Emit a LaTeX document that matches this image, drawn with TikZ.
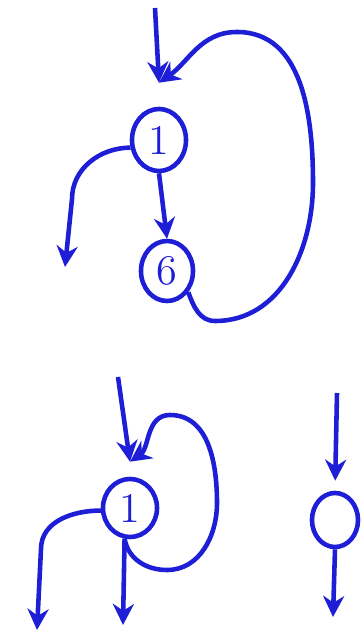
\documentclass[tikz,border=0pt]{standalone}
\usepackage{xcolor}
\usetikzlibrary{shapes.geometric, arrows.meta, positioning}
\definecolor{ink}{RGB}{30,30,215}

\begin{document}
\begin{tikzpicture}[
    x=0.01cm, y=0.01cm,
    >={Stealth[length=6pt, width=6pt]},
    state/.style={ellipse, draw=ink, line width=1.3pt, minimum width=0.54cm, minimum height=0.62cm, inner sep=0pt, font=\large, text=ink},
    flow/.style={->, draw=ink, line width=1.3pt}
]

% canvas, same size as the sketch
\useasboundingbox (0,0) rectangle (360,639);

% -------------------------------------------------------------------------
% Upper machine: states 1 and 6, loop back into the start
% -------------------------------------------------------------------------
\node[state] (A1) at (159,499) {1};
\node[state, minimum width=0.52cm, minimum height=0.6cm] (A6) at (167,368) {6};

\coordinate (Ain) at (155,631);
\coordinate (Ajoin) at ([yshift=0.24cm]A1.north);
\coordinate (Aout) at (65,372);

\draw[flow] (Ain) -- (Ajoin);
\draw[flow] (A1.south) -- (A6.north);

% left exit
\draw[flow] (A1.195) to[out=180, in=90] (72,440) -- (Aout);

% big loop round the right side
\draw[flow] (A6.-45) to[out=-70, in=180] (215,318) to[out=0, in=-90] (313,456)
    to[out=90, in=0] (237,607) to[out=180, in=35] (Ajoin);

% -------------------------------------------------------------------------
% Lower left machine: one state with a loop
% -------------------------------------------------------------------------
\node[state, minimum height=0.58cm] (B1) at (130,131) {1};

\coordinate (Bin) at (118,262);
\coordinate (Bjoin) at ([yshift=0.15cm]B1.north);
\coordinate (Bout) at (123,14);
\coordinate (Bleft) at (37,9);

\draw[flow] (Bin) -- (Bjoin);
\draw[flow] (B1.-100) -- (Bout);
\draw[flow] (B1.185) to[out=180, in=90] (41,90) -- (Bleft);

% loop from the bottom back to the start
\draw[flow] (B1.-100) to[out=-80, in=180] (167,69) to[out=0, in=-90] (217,136)
    to[out=90, in=0] (170,224) to[out=180, in=35] (Bjoin);

% -------------------------------------------------------------------------
% Lower right machine: a single empty state
% -------------------------------------------------------------------------
\node[state, minimum width=0.46cm, minimum height=0.54cm] (C) at (335,119) {};

\coordinate (Cin) at (337,246);
\coordinate (Cout) at (333,22);

\draw[flow, shorten >=0.1cm] (Cin) -- (C.north);
\draw[flow] (C.south) -- (Cout);

\end{tikzpicture}
\end{document}
